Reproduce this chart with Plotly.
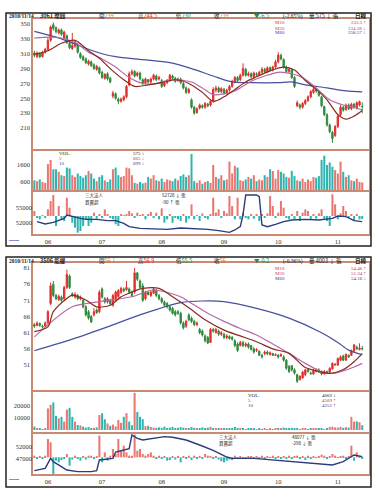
import plotly.graph_objects as go

W, H = 380, 501
N_DAYS = 122
DAY = list(range(N_DAYS))
MONTH_POS = [5, 25, 47, 70, 90, 112]
MONTH_LBL = ["06", "07", "08", "09", "10", "11"]

# ---------------- chart 1 (3061) ----------------
A_OPEN = [311,306,310,306,312,316,328,349,345,338,
          342,331,334,324,317,320,322,310,306,303,
          296,299,295,289,291,285,277,283,277,253,
          256,249,246,248,252,268,283,286,281,284,
          275,271,275,272,276,280,276,274,267,271,
          274,280,277,274,276,270,264,258,248,238,
          231,237,240,238,242,241,246,261,264,259,
          262,257,261,266,272,278,275,281,289,281,
          283,279,283,282,285,289,286,291,288,292,
          299,308,302,292,286,288,278,240,241,238,
          243,247,252,258,262,258,252,239,228,214,
          204,200,212,228,238,235,241,236,242,237,
          241,239]
A_CLOSE = [308,311,306,312,316,328,346,344,340,342,
           336,339,325,318,321,326,312,305,302,298,
           300,294,290,293,284,278,282,276,272,257,
           250,246,249,252,266,283,286,280,284,276,
           270,276,272,276,281,275,278,266,271,274,
           281,277,273,276,271,264,258,262,238,230,
           236,241,238,243,240,246,262,264,259,263,
           257,261,266,273,278,274,281,290,281,283,
           279,284,282,285,289,286,291,288,292,299,
           308,303,292,286,289,278,266,244,238,243,
           247,252,259,262,260,254,240,228,214,205,
           196,212,226,238,234,241,236,242,238,244,
           245.5,239]
A_HIGH = [314,313,312,314,318,331,348,352,347,344,
          344,341,336,326,338,328,324,312,308,305,
          302,301,297,295,293,287,284,285,279,260,
          258,251,251,254,268,286,289,288,286,286,
          277,278,276,278,283,282,280,276,273,276,
          283,282,279,278,278,272,266,264,250,240,
          238,243,242,245,244,248,265,267,266,265,
          264,263,268,275,280,280,283,297,291,286,
          285,286,285,287,292,291,293,293,294,302,
          312,310,304,294,291,290,280,247,243,245,
          249,254,261,265,264,260,253,240,230,216,
          206,214,229,241,240,243,243,244,244,246,
          247,244.5]
A_LOW = [305,304,304,305,310,314,326,341,337,336,
         334,329,323,316,315,318,310,303,300,296,
         294,292,288,287,282,276,275,274,270,250,
         248,242,244,246,250,266,281,278,279,274,
         268,269,270,270,274,273,274,264,265,269,
         272,275,271,272,269,262,256,256,236,228,
         229,235,236,236,238,239,244,258,257,257,
         255,255,259,264,270,272,273,279,279,279,
         277,277,280,280,283,284,284,286,286,290,
         297,301,290,284,284,276,264,238,235,236,
         241,245,250,256,257,252,238,226,212,203,
         190,198,210,226,232,233,234,234,236,235,
         239,230]
A_VOL = [700,650,750,600,550,1650,1900,1350,1350,1200,
         1000,950,1450,1400,1000,900,1100,950,850,1000,
         1250,1100,800,650,900,1000,700,600,750,1350,
         1450,1000,900,950,1450,1400,1000,550,500,600,
         520,560,900,800,1000,700,650,800,600,750,
         700,650,800,700,950,1050,900,1000,2250,650,
         550,700,500,600,650,550,1600,900,800,1000,
         700,750,1800,1100,1550,1450,700,650,750,900,
         800,1000,650,750,700,1000,900,1350,1250,800,
         1300,1200,1100,900,850,1250,950,700,650,800,
         600,750,650,900,850,950,1900,2150,1600,1750,
         1500,1300,1100,1800,1200,900,1000,700,650,800,
         600,575]
A_NET = [150,-50,-100,30,-40,200,450,630,-300,300,
         -100,-150,550,250,-200,-350,-500,-450,-300,-100,
         -300,-200,100,-80,50,-60,200,40,-60,-100,
         -250,-300,50,30,50,150,80,-40,100,30,
         60,-100,40,120,-50,100,-100,230,-200,-100,
         60,-200,-50,-100,-150,40,-200,-80,350,-100,
         30,-150,80,-60,-100,40,550,100,200,-50,
         150,80,600,300,-100,550,-100,100,-60,-100,
         50,-80,60,-150,40,-60,80,600,300,-50,
         100,450,250,-60,-100,40,-100,150,-150,100,
         200,150,-100,60,-80,80,200,-80,-150,-300,
         650,350,-100,80,300,150,-60,50,-150,50,
         -100,-90]
A_M10_X = [0,5,10,15,20,24,28,33,37,42,47,52,57,62,66,70,74,78,82,87,92,96,100,104,108,112,115,118,121]
A_M10_Y = [309,314,324,328,314,304,290,275,266,268,271,275,270,258,246,252,262,272,279,287,292,288,274,262,248,228,222,226,233.5]
A_M20_X = [0,8,15,20,25,30,35,40,45,50,55,58,62,66,70,74,80,85,90,95,99,104,109,114,118,121]
A_M20_Y = [331,332,325,312,303,292,278,270,270,275,274,272,264,255,256,260,273,280,285,283,278,264,248,241,238,234.2]
A_M60_X = [0,10,20,25,30,40,50,58,66,73,80,90,95,100,108,115,121]
A_M60_Y = [340,330,316,310,306,302,298,290,280,272,271,271,272,268,264,260,258.6]
A_HOLD_X = [1,4,7,9,11,12,15,17,19,23,27,30,33,35,39,44,49,54,59,64,68,72,74,76,77,78,82,83,84,86,89,92,95,100,105,110,112,115,118,121]
A_HOLD_Y = [52270,51800,52130,52600,52930,53600,53130,52930,52730,52730,52470,52470,51930,51270,50930,50800,50730,51000,50930,50730,50470,50130,50600,51270,53600,57600,57600,57270,51600,51270,51730,52270,52600,52730,52600,52930,53400,53270,52470,52270]

# ---------------- chart 2 (3506) ----------------
B_OPEN = [63.5,63.2,63.8,63.0,63.0,64.0,70.0,76.0,72.5,71.2,
          72.0,71.5,75.0,78.5,73.0,72.0,72.5,71.5,71.0,69.0,
          67.5,66.0,66.5,68.0,67.5,74.5,71.5,70.5,71.0,69.5,
          71.0,72.2,73.5,74.5,74.3,74.5,73.5,73.6,79.5,77.0,
          75.5,71.5,73.5,72.5,73.2,74.0,72.5,71.5,70.5,70.0,
          69.0,68.5,67.5,67.5,67.0,64.0,63.0,66.5,65.5,64.5,
          63.5,62.0,61.5,60.0,59.5,58.0,62.0,61.0,61.5,60.5,
          60.5,59.5,59.8,59.5,58.5,57.5,57.0,58.0,57.0,57.5,
          57.0,56.0,55.5,55.3,54.0,54.5,55.0,54.2,54.5,54.0,
          54.0,53.8,53.5,52.5,50.5,50.8,49.5,48.0,46.5,47.0,
          48.0,49.5,48.5,48.2,49.0,49.5,49.0,48.3,49.0,48.8,
          49.8,51.0,51.0,52.5,53.8,52.5,54.0,54.0,55.3,56.5,
          55.8,56.1]
B_CLOSE = [63.0,64.0,63.2,62.8,64.0,67.5,75.5,72.5,71.5,72.2,
           71.0,75.0,79.0,75.0,72.5,72.8,71.5,72.0,69.0,66.5,
           65.5,64.3,67.5,67.2,73.5,72.0,70.5,71.5,70.0,72.5,
           73.6,74.0,74.7,74.0,75.0,73.5,72.5,79.5,77.5,75.0,
           71.0,73.5,72.8,73.5,74.5,72.5,71.5,70.5,69.5,69.0,
           68.0,67.0,66.5,67.0,64.0,62.5,64.5,65.0,64.5,63.5,
           64.0,61.0,60.3,58.5,57.8,62.0,61.5,62.0,60.5,61.0,
           59.5,60.0,59.2,59.0,57.0,55.5,58.0,57.0,57.5,56.5,
           55.8,55.0,55.8,54.0,53.5,55.0,54.5,54.8,54.0,54.2,
           53.5,54.2,52.5,50.0,49.0,49.5,48.5,46.0,47.5,48.8,
           49.5,49.0,48.3,49.5,49.6,48.8,48.2,49.0,48.5,50.0,
           51.5,51.2,53.0,53.5,52.5,54.3,53.5,55.5,57.2,56.0,
           56.2,56.0]
B_HIGH = [64.0,64.5,64.2,63.5,64.5,68.0,76.5,77.0,73.0,72.8,
          72.5,75.5,80.5,79.0,73.5,73.5,73.0,72.5,71.5,69.5,
          68.0,66.5,68.6,68.5,74.2,75.0,72.0,72.0,71.5,73.0,
          74.0,74.5,75.2,75.0,77.0,75.0,74.0,81.0,79.8,77.5,
          76.3,74.0,74.0,74.0,75.0,74.5,73.0,72.0,71.0,70.5,
          69.5,69.0,68.0,68.0,67.5,64.5,65.0,67.0,66.0,65.0,
          64.5,62.5,62.0,60.5,60.0,62.5,62.5,62.5,62.0,61.5,
          61.0,60.5,60.2,60.0,59.0,58.0,58.5,58.5,58.0,58.0,
          57.2,56.5,56.2,55.5,54.5,55.5,55.5,55.2,54.8,54.6,
          54.4,54.6,54.0,52.8,51.0,51.0,50.0,48.3,47.8,49.2,
          49.8,50.0,49.0,49.8,50.0,50.0,49.3,49.5,49.3,50.3,
          51.8,51.6,53.3,54.0,54.2,54.6,54.3,55.8,57.5,57.0,
          57.7,56.9]
B_LOW = [62.5,63.0,62.8,62.3,62.8,63.8,69.5,72.0,71.0,70.8,
         70.5,71.0,74.5,74.5,72.0,71.5,71.0,71.0,68.5,66.0,
         65.0,64.0,66.0,66.8,67.0,71.5,70.0,70.0,69.5,69.0,
         70.5,71.8,73.0,73.5,74.0,73.0,72.0,73.0,77.0,74.5,
         70.5,71.0,72.5,72.0,73.0,72.0,71.0,70.0,69.0,68.5,
         67.5,66.5,66.0,66.5,63.5,62.0,62.5,64.5,64.0,63.0,
         63.0,60.5,59.8,58.0,57.5,57.8,61.0,60.8,60.0,60.0,
         59.0,59.0,58.8,58.5,56.5,55.0,56.8,56.5,56.5,56.0,
         55.5,54.5,55.0,53.8,53.0,54.0,54.0,54.0,53.8,53.8,
         53.0,53.5,52.0,49.5,48.5,49.0,48.0,45.4,46.2,46.8,
         47.5,48.6,48.0,48.0,48.7,48.5,47.8,48.0,48.2,48.5,
         49.5,50.8,50.7,52.2,52.2,52.3,53.2,53.8,55.0,55.7,
         55.5,55.5]
B_VOL = [2800,1500,1000,600,1200,18000,21000,23000,11700,9700,
         11000,7000,17000,18500,11000,7000,4200,3800,2800,2000,
         2500,1400,1800,2200,12500,14000,9000,5500,3500,4500,
         3000,8300,6000,11000,14000,7000,4000,31000,15000,11000,
         9000,3200,3500,2500,2000,1500,2200,1800,2800,1600,
         2000,2600,1500,1800,2400,2000,1200,1500,2500,1800,
         1000,1500,2200,1400,1900,2600,1300,1000,1800,1200,
         1600,900,1100,1400,2600,1800,1000,1200,700,900,
         1300,1600,800,1100,600,900,700,1000,800,1200,
         900,1400,2000,1500,1200,1800,1000,1400,800,1200,
         900,700,1000,1300,900,1100,1600,800,1200,2500,
         2800,2200,2000,2600,1800,2400,2000,11000,7000,7200,
         6500,4003]
B_NET = [300,-150,100,-300,300,3300,2700,-3000,-600,-900,
         -500,-300,600,-1500,-400,300,-300,-600,200,-400,
         300,300,-200,150,3900,-900,900,-600,300,1500,
         600,3300,1200,2100,900,300,300,4100,1200,1500,
         600,300,600,900,300,-300,300,-200,200,-600,
         -500,200,-400,150,-900,200,-300,300,-500,300,
         -200,200,-150,600,300,200,-300,150,-400,-720,
         -900,-600,-400,-500,300,-200,200,-300,-300,200,
         180,-150,100,-200,300,-300,150,-100,300,-300,
         150,-200,100,-300,300,-200,150,300,-150,100,
         -480,300,-200,150,-100,200,480,300,-150,100,
         600,300,-100,200,300,-200,150,2100,-600,900,
         300,-298]
B_M10_X = [0,5,7,12,14,19,23,28,32,36,40,46,51,57,63,70,76,82,88,94,100,105,109,114,118,121]
B_M10_Y = [61.3,62.8,67.5,71.6,72.6,71.1,69.0,69.5,72.1,73.6,74.7,74.7,72.1,68.7,65.0,61.8,60.0,58.2,56.0,54.6,50.2,49.0,48.4,49.6,52.0,54.5]
B_M20_X = [0,14,24,36,44,54,57,64,70,76,82,88,94,100,106,110,114,118,121]
B_M20_Y = [59.7,69.0,70.6,72.1,74.2,72.1,70.6,67.0,64.5,62.3,60.3,57.5,54.6,51.5,48.9,48.4,49.2,50.4,51.5]
B_M60_X = [0,14,27,40,54,62,70,82,94,106,112,116,121]
B_M60_Y = [55.4,59.0,62.8,66.8,70.3,70.8,70.6,68.5,65.5,61.0,58.0,55.6,54.2]
B_HOLD_X = [0,4,6,7,12,16,21,23,24,27,29,30,33,35,36,38,40,44,48,51,56,61,66,71,73,81,88,96,103,110,114,116,118,121]
B_HOLD_Y = [42130,43110,47280,45890,42410,41720,41720,42130,46580,46860,47280,49920,50610,51310,57010,55620,54920,55620,56310,56040,54920,52840,50610,47830,47280,47280,46580,45890,45190,44500,45890,47280,48670,47970]

for arr in (A_OPEN, A_CLOSE, A_HIGH, A_LOW, A_VOL, A_NET,
            B_OPEN, B_CLOSE, B_HIGH, B_LOW, B_VOL, B_NET):
    assert len(arr) == N_DAYS, len(arr)

RED = "#e0302c"
GRN = "#2f8a3c"
VRED = "#ea7670"
VCYN = "#2db6b0"
C_M10 = "#8a2a1c"
C_M20 = "#b26aa8"
C_M60 = "#46509a"
C_HOLD = "#2b3b7c"
BORDER = "#c98a74"
FONT = "Liberation Serif, Noto Sans CJK TC"
FONT_CJK = "Noto Sans CJK TC"

fig = go.Figure()


def add_chart(o, h, l, c, vol, net, m10, m20, m60, hold, axes):
    xp, yp, xv, yv, xf, yfb, yfl = axes
    fig.add_trace(go.Candlestick(
        x=DAY, open=o, high=h, low=l, close=c, xaxis=xp, yaxis=yp,
        increasing=dict(line=dict(color=RED, width=1), fillcolor=RED),
        decreasing=dict(line=dict(color=GRN, width=1), fillcolor=GRN),
        whiskerwidth=0, showlegend=False, hoverinfo="skip"))
    for (mx, my), col in ((m60, C_M60), (m20, C_M20), (m10, C_M10)):
        fig.add_trace(go.Scatter(x=mx, y=my, mode="lines", xaxis=xp, yaxis=yp,
                                 line=dict(color=col, width=1.2, shape="spline", smoothing=0.8),
                                 showlegend=False, hoverinfo="skip"))
    vcol = [VRED if cc >= oo else VCYN for oo, cc in zip(o, c)]
    fig.add_trace(go.Bar(x=DAY, y=vol, marker=dict(color=vcol, line=dict(width=0)),
                         xaxis=xv, yaxis=yv, showlegend=False, hoverinfo="skip"))
    ncol = [VRED if v >= 0 else VCYN for v in net]
    fig.add_trace(go.Bar(x=DAY, y=net, marker=dict(color=ncol, line=dict(width=0)),
                         xaxis=xf, yaxis=yfb, showlegend=False, hoverinfo="skip"))
    fig.add_trace(go.Scatter(x=hold[0], y=hold[1], mode="lines", xaxis=xf, yaxis=yfl,
                             line=dict(color=C_HOLD, width=1.4),
                             showlegend=False, hoverinfo="skip"))


add_chart(A_OPEN, A_HIGH, A_LOW, A_CLOSE, A_VOL, A_NET,
          (A_M10_X, A_M10_Y), (A_M20_X, A_M20_Y), (A_M60_X, A_M60_Y),
          (A_HOLD_X, A_HOLD_Y), ("x", "y", "x2", "y2", "x3", "y3", "y4"))
add_chart(B_OPEN, B_HIGH, B_LOW, B_CLOSE, B_VOL, B_NET,
          (B_M10_X, B_M10_Y), (B_M20_X, B_M20_Y), (B_M60_X, B_M60_Y),
          (B_HOLD_X, B_HOLD_Y), ("x4", "y5", "x5", "y6", "x6", "y7", "y8"))


def dom(top, bottom):
    return [1 - bottom / H, 1 - top / H]


XDOM = [33 / W, 369 / W]
XR = [-0.5, 123.5]
tickfont = dict(family=FONT, size=6.5, color="#333")


def xax(anchor, labels):
    d = dict(domain=XDOM, range=XR, anchor=anchor, showgrid=False, zeroline=False,
             showline=True, mirror=True, linecolor=BORDER, linewidth=1.5,
             rangeslider=dict(visible=False), ticks="", fixedrange=True,
             tickfont=tickfont)
    if labels:
        d.update(tickmode="array", tickvals=MONTH_POS, ticktext=MONTH_LBL, showticklabels=True)
    else:
        d.update(showticklabels=False)
    return d


def yax(anchor, domain, rng, tickvals, show=True):
    return dict(domain=domain, range=rng, anchor=anchor, showgrid=False, zeroline=False,
                showline=show, mirror=show, linecolor=BORDER, linewidth=1.5,
                ticks="", tickmode="array", tickvals=tickvals,
                ticktext=[str(v) for v in tickvals],
                showticklabels=bool(tickvals), tickfont=tickfont, fixedrange=True)


def yover(over, anchor, rng, tickvals):
    return dict(overlaying=over, anchor=anchor, range=rng, showgrid=False,
                zeroline=False, showline=False, ticks="", tickmode="array",
                tickvals=tickvals, ticktext=[str(v) for v in tickvals],
                tickfont=tickfont, side="left", fixedrange=True)


layout = dict(
    width=W, height=H, margin=dict(l=0, r=0, t=0, b=0),
    paper_bgcolor="white", plot_bgcolor="white", bargap=0.25, barmode="overlay",
    showlegend=False,
    xaxis=xax("y", False), xaxis2=xax("y2", False), xaxis3=xax("y3", True),
    xaxis4=xax("y5", False), xaxis5=xax("y6", False), xaxis6=xax("y7", True),
    yaxis=yax("x", dom(19, 149), [181.8, 356.7], [210, 230, 250, 270, 290, 310, 330, 350]),
    yaxis2=yax("x2", dom(151, 190), [130, 2423], [600, 1600]),
    yaxis3=yax("x3", dom(192, 234), [-540, 720], []),
    yaxis4=yover("y3", "x3", [49800, 58200], [52000, 55000]),
    yaxis5=yax("x4", dom(263, 390), [43.27, 82.55], [51, 56, 61, 66, 71, 76, 81]),
    yaxis6=yax("x5", dom(392, 432), [-1667, 31667], [10000, 20000]),
    yaxis7=yax("x6", dom(434, 474), [-3000, 4200], []),
    yaxis8=yover("y7", "x6", [40750, 57417], [47000, 52000]),
)
fig.update_layout(**layout)

# outer frames
for y0, y1 in ((13, 246), (257, 487)):
    fig.add_shape(type="rect", xref="paper", yref="paper", x0=6 / W, x1=371 / W,
                  y0=1 - y1 / H, y1=1 - y0 / H, line=dict(color="#222", width=1.5))

ann = []


def T(x, y, s, color="#222", size=6, anchor="left", font=FONT):
    ann.append(dict(x=x / W, y=1 - y / H, xref="paper", yref="paper", text=s,
                    showarrow=False, xanchor=anchor, yanchor="middle",
                    font=dict(size=size, color=color, family=font)))


def sp(s, col):
    return "<span style='color:%s'>%s</span>" % (col, s)


ORG = "#e0782a"
# headers
for base, date, name, op, hi, lo, cl, chg, pct, vol in (
        (16.5, "2010/11/14", "3061 璨圓", "239", "244.5", "230", "239", "▼-6.5", "(-2.65%)", "575"),
        (261, "2010/11/14", "3506 能緹", "56.1", "56.9", "55.5", "56", "▼-0.2", "(-0.36%)", "4003")):
    T(7, base, "<b>%s</b>" % date, size=5.5)
    T(38, base, "<b>%s</b>" % name, size=5.5, font=FONT_CJK)
    T(97, base, "開" + sp(op, ORG), size=5.5, font=FONT_CJK)
    T(136, base, "高" + sp(hi, RED), size=5.5, font=FONT_CJK)
    T(174, base, "低" + sp(lo, GRN), size=5.5, font=FONT_CJK)
    T(212, base, "收" + sp(cl, ORG), size=5.5, font=FONT_CJK)
    T(252, base, sp(chg, GRN), size=5.5, font=FONT_CJK)
    T(281, base, pct, size=5.5)
    T(307, base, "量 %s ↓ 張" % vol, size=5.5, font=FONT_CJK)
    T(369, base, "<b>日線</b>", size=5.5, anchor="right", font=FONT_CJK)

# MA legends
for base, vals in ((23, ("233.5 ↑", "234.18 ↓", "258.57 ↓")),
                   (268, ("54.46 ↑", "51.34 ↑", "54.16 ↓"))):
    for k, (lab, col, vcol) in enumerate((("M10", "#c03a2a", "#c03a2a"),
                                          ("M20", "#c84060", "#a04080"),
                                          ("M60", "#404090", "#404090"))):
        T(273, base + 5 * k, lab, color=col, size=5)
        T(368, base + 5 * k, vals[k], color=vcol, size=5, anchor="right")

# volume legends
for lx, vx, base, vals in ((57, 146, 153.5, ("575 ↓", "665 ↓", "899 ↓")),
                           (246, 338, 395.5, ("4003 ↓", "4509 ↑", "4251 ↑"))):
    T(lx, base, "VOL.", size=5)
    T(lx, base + 5, "5", color="#d03020", size=5)
    T(lx, base + 10, "10", color="#404090", size=5)
    T(vx, base, vals[0], size=5, anchor="right")
    T(vx, base + 5, vals[1], color="#d03020", size=5, anchor="right")
    T(vx, base + 10, vals[2], color="#404090", size=5, anchor="right")

# flow legends
for lx, vx, base, vals in ((83, 160, 195.5, ("52728 ↓ 張", "-90 ↑ 張")),
                           (217, 290, 437, ("48077 ↓ 張", "-298 ↓ 張"))):
    T(lx, base, "三大法人", size=4.5, font=FONT_CJK)
    T(lx, base + 6.5, "買賣超", size=4.5, font=FONT_CJK)
    T(vx, base, vals[0], size=4.5, font=FONT_CJK)
    T(vx, base + 6.5, vals[1], size=4.5, font=FONT_CJK)

# small blue marks at bottom-left
for yy in (240, 479):
    T(7, yy, "<b>━━</b>", color="#3050c0", size=5)

fig.update_layout(annotations=ann)
fig.write_html("out.html")
